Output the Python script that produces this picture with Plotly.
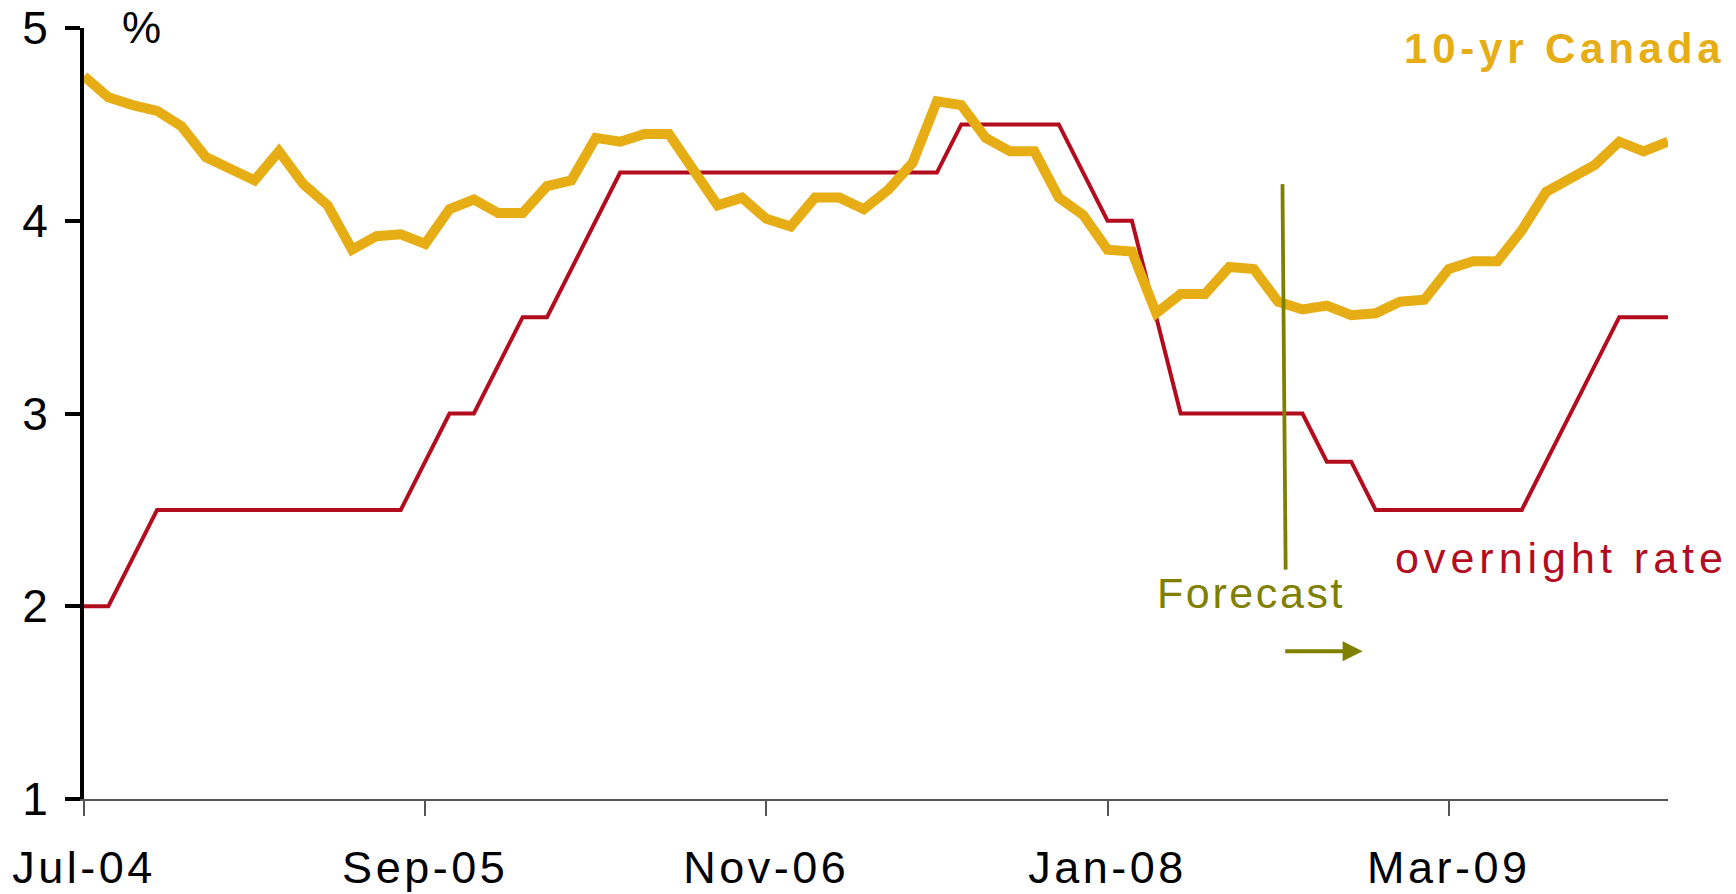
import pandas as pd
import plotly.graph_objects as go

# ---------------- data ----------------
months = pd.date_range(start="2004-07-01", periods=66, freq="MS").strftime("%b-%y").tolist()

canada_10yr = [4.75, 4.64, 4.60, 4.57, 4.49, 4.33, 4.27, 4.21, 4.36, 4.19,
               4.08, 3.85, 3.92, 3.93, 3.88, 4.06, 4.11, 4.04, 4.04, 4.18,
               4.21, 4.43, 4.41, 4.45, 4.45, 4.26, 4.08, 4.12, 4.01, 3.97,
               4.12, 4.12, 4.06, 4.16, 4.30, 4.62, 4.60, 4.43, 4.36, 4.36,
               4.12, 4.03, 3.85, 3.84, 3.52, 3.62, 3.62, 3.76, 3.75, 3.58,
               3.54, 3.56, 3.51, 3.52, 3.58, 3.59, 3.75, 3.79, 3.79, 3.95,
               4.15, 4.22, 4.29, 4.41, 4.36, 4.41]

overnight_rate = [2.00, 2.00, 2.25, 2.50, 2.50, 2.50, 2.50, 2.50, 2.50, 2.50,
                  2.50, 2.50, 2.50, 2.50, 2.75, 3.00, 3.00, 3.25, 3.50, 3.50,
                  3.75, 4.00, 4.25, 4.25, 4.25, 4.25, 4.25, 4.25, 4.25, 4.25,
                  4.25, 4.25, 4.25, 4.25, 4.25, 4.25, 4.50, 4.50, 4.50, 4.50,
                  4.50, 4.25, 4.00, 4.00, 3.50, 3.00, 3.00, 3.00, 3.00, 3.00,
                  3.00, 2.75, 2.75, 2.50, 2.50, 2.50, 2.50, 2.50, 2.50, 2.50,
                  2.75, 3.00, 3.25, 3.50, 3.50, 3.50]

x_tick_labels = ["Jul-04", "Sep-05", "Nov-06", "Jan-08", "Mar-09"]
y_tick_values = [1, 2, 3, 4, 5]

# ---------------- styles ----------------
YELLOW = "#E6AE14"
RED = "#B30C1F"
OLIVE = "#808000"
FONT = "Liberation Sans"


def spaced(txt, px):
    return f'<span style="letter-spacing:{px}px">{txt}</span>'


fig = go.Figure()
fig.add_trace(go.Scatter(x=months, y=overnight_rate, mode="lines",
                         line=dict(color=RED, width=4), name="overnight rate",
                         hoverinfo="skip"))
fig.add_trace(go.Scatter(x=months, y=canada_10yr, mode="lines",
                         line=dict(color=YELLOW, width=10), name="10-yr Canada",
                         hoverinfo="skip"))

# forecast divider line
fig.add_shape(type="line", xref="x", yref="y", x0=49.18, y0=4.19, x1=49.31, y1=2.19,
              line=dict(color=OLIVE, width=3.8), layer="above")

# percent unit label (paper coords, above the plot top)
fig.add_annotation(xref="paper", yref="paper", x=0.036, y=1.0012, text="%",
                   showarrow=False, xanchor="center", yanchor="middle",
                   font=dict(size=44, color="black", family=FONT))

annotations = [
    dict(x=60.76, y=4.894, text=spaced("<b>10-yr Canada</b>", 4.8),
         font=dict(size=42, color=YELLOW, family=FONT)),
    dict(x=60.63, y=2.248, text=spaced("overnight rate", 5),
         font=dict(size=43, color=RED, family=FONT)),
    dict(x=47.87, y=2.071, text=spaced("Forecast", 2.6),
         font=dict(size=43, color=OLIVE, family=FONT)),
]
for a in annotations:
    fig.add_annotation(xref="x", yref="y", showarrow=False, xanchor="center",
                       yanchor="middle", **a)

# forecast arrow
fig.add_annotation(x=52.47, y=1.767, ax=49.23, ay=1.767, xref="x", yref="y",
                   axref="x", ayref="y", text="", showarrow=True, arrowhead=2,
                   arrowsize=1, arrowwidth=4, arrowcolor=OLIVE, standoff=0,
                   startstandoff=0)

fig.update_layout(
    width=1736, height=894,
    margin=dict(l=84, r=68, t=28, b=95, autoexpand=False),
    paper_bgcolor="white", plot_bgcolor="white",
    showlegend=False,
    font=dict(family=FONT, color="black"),
)
fig.update_xaxes(
    type="category", range=[0, 65], automargin=False,
    tickmode="array", tickvals=x_tick_labels,
    ticktext=[spaced(t, 3.5) for t in x_tick_labels],
    tickfont=dict(size=45, color="black", family=FONT),
    ticks="outside", ticklen=15, tickwidth=1.5, tickcolor="#555555",
    showline=True, linecolor="#555555", linewidth=2,
    showgrid=False, zeroline=False, ticklabelstandoff=13,
)
fig.update_yaxes(
    range=[1, 5], automargin=False, tickmode="array", tickvals=y_tick_values,
    tickfont=dict(size=46, color="black", family=FONT),
    ticks="outside", ticklen=15, tickwidth=4, tickcolor="black",
    showline=True, linecolor="black", linewidth=4,
    showgrid=False, zeroline=False, ticklabelstandoff=8,
)

fig.write_html("out.html", config={"displayModeBar": False},
               post_script="document.body.style.margin='0';document.body.style.overflow='hidden';")
